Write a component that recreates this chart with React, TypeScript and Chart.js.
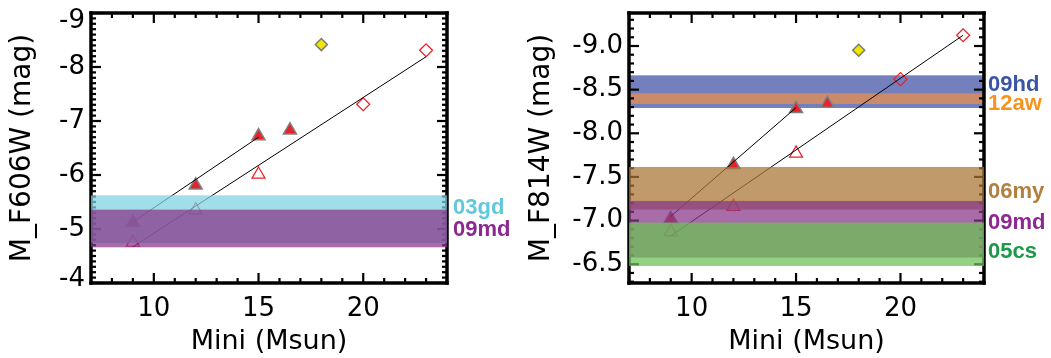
import { useEffect, useRef } from "react";
import { Chart, registerables } from "chart.js";

Chart.register(...registerables);

// ---------- shared ----------
const massRange = [7, 24];
const massMajorStep = 5;
const massMinorStep = 1;
const magMinorStep = 0.1;
const massTitle = "Mini (Msun)";

// ---------- left panel: F606W ----------
const f606Title = "M_F606W (mag)";
const f606Range = [-9, -4];
const f606MajorStep = 1;
const f606Decimals = 0;
const f606FilledMass = [9, 12, 15, 16.5];
const f606FilledMag = [-5.12, -5.81, -6.72, -6.83];
const f606OpenMass = [9, 12, 15];
const f606OpenMag = [-4.75, -5.35, -6.01];
const f606DiamondMass = [20, 23];
const f606DiamondMag = [-7.31, -8.31];
const f606YellowMass = [18];
const f606YellowMag = [-8.415];
const f606FitFilledMass = [9, 15];
const f606FitFilledMag = [-5.13, -6.7];
const f606FitOpenMass = [9, 23];
const f606FitOpenMag = [-4.67, -8.19];
const f606BandNames = ["03gd", "09md"];
const f606BandBright = [-5.624, -5.359];
const f606BandFaint = [-4.741, -4.661];
const f606BandOverData = [true, true];
const f606LabelMag = [-5.285, -4.865];

// ---------- right panel: F814W ----------
const f814Title = "M_F814W (mag)";
const f814Range = [-9.378, -6.285];
const f814MajorStep = 0.5;
const f814Decimals = 1;
const f814FilledMass = [9, 12, 15, 16.5];
const f814FilledMag = [-7.02, -7.64, -8.28, -8.34];
const f814OpenMass = [9, 12, 15];
const f814OpenMag = [-6.87, -7.16, -7.77];
const f814DiamondMass = [20, 23];
const f814DiamondMag = [-8.62, -9.123];
const f814YellowMass = [18];
const f814YellowMag = [-8.951];
const f814FitFilledMass = [9, 15];
const f814FitFilledMag = [-7.049, -8.294];
const f814FitOpenMass = [9, 23];
const f814FitOpenMag = [-6.824, -9.123];
const f814BandNames = ["09hd", "12aw", "06my", "09md", "05cs"];
const f814BandBright = [-8.664, -8.458, -7.614, -7.225, -6.977];
const f814BandFaint = [-8.29, -8.336, -7.126, -6.576, -6.48];
const f814BandOverData = [false, false, true, true, true];
const f814LabelMag = [-8.485, -8.263, -7.263, -6.908, -6.576];

// ---------- styles ----------
const bandFill: Record<string, string> = {
  "03gd": "rgba(127,210,226,0.73)",
  "09md": "rgba(136,53,136,0.73)",
  "09hd": "rgba(63,81,165,0.73)",
  "12aw": "rgba(233,142,75,0.73)",
  "06my": "rgba(168,116,51,0.73)",
  "05cs": "rgba(107,193,84,0.73)",
};
const labelColor: Record<string, string> = {
  "03gd": "#5fc8dc",
  "09md": "#8c2891",
  "09hd": "#3b55a6",
  "12aw": "#f7941e",
  "06my": "#b27f3f",
  "05cs": "#1c9a4a",
};

const AXIS_FONT = '"DejaVu Sans", sans-serif';
const LABEL_FONT = 'bold 22px "Liberation Sans", Arial, sans-serif';

const pts = (xs: number[], ys: number[]) => xs.map((x, i) => ({ x, y: ys[i] }));

function drawBands(chart: any, opts: any, over: boolean) {
  const { ctx, chartArea: a, scales } = chart;
  const ys = scales.y;
  ctx.save();
  opts.names.forEach((n: string, i: number) => {
    if (!!opts.over[i] !== over) return;
    const y1 = ys.getPixelForValue(opts.bright[i]);
    const y2 = ys.getPixelForValue(opts.faint[i]);
    ctx.fillStyle = bandFill[n];
    ctx.fillRect(a.left, Math.min(y1, y2), a.right - a.left, Math.abs(y2 - y1));
  });
  ctx.restore();
}

function drawFrame(chart: any, opts: any) {
  const { ctx, chartArea: a, scales } = chart;
  ctx.save();
  ctx.fillStyle = "#000000";
  const TW = 2.2;
  const drawTicks = (scale: any, minor: number, major: number, horizontal: boolean) => {
    const lo = Math.min(scale.min, scale.max);
    const hi = Math.max(scale.min, scale.max);
    const start = Math.ceil(lo / minor - 1e-6);
    const end = Math.floor(hi / minor + 1e-6);
    for (let k = start; k <= end; k++) {
      const v = k * minor;
      const r = v / major;
      const isMajor = Math.abs(r - Math.round(r)) < 1e-6;
      const len = isMajor ? 10 : 5;
      const p = scale.getPixelForValue(v);
      if (horizontal) {
        ctx.fillRect(p - TW / 2, a.bottom - len, TW, len);
        ctx.fillRect(p - TW / 2, a.top, TW, len);
      } else {
        ctx.fillRect(a.left, p - TW / 2, len, TW);
        ctx.fillRect(a.right - len, p - TW / 2, len, TW);
      }
    }
  };
  drawTicks(scales.x, massMinorStep, massMajorStep, true);
  drawTicks(scales.y, magMinorStep, opts.majorStep, false);

  const B = 3.5;
  ctx.fillRect(a.left - B / 2, a.top - B / 2, a.right - a.left + B, B);
  ctx.fillRect(a.left - B / 2, a.bottom - B / 2, a.right - a.left + B, B);
  ctx.fillRect(a.left - B / 2, a.top - B / 2, B, a.bottom - a.top + B);
  ctx.fillRect(a.right - B / 2, a.top - B / 2, B, a.bottom - a.top + B);
  ctx.restore();
}

const frameBandsPlugin = {
  id: "frameBands",
  beforeDatasetsDraw(chart: any, _args: any, opts: any) {
    drawBands(chart, opts, false);
  },
  afterDatasetsDraw(chart: any, _args: any, opts: any) {
    drawFrame(chart, opts);
    drawBands(chart, opts, true);
    const { ctx, chartArea: a, scales } = chart;
    ctx.save();
    ctx.font = LABEL_FONT;
    ctx.textAlign = "left";
    ctx.textBaseline = "alphabetic";
    opts.names.forEach((n: string, i: number) => {
      ctx.fillStyle = labelColor[n];
      ctx.fillText(n, a.right + opts.labelGap, scales.y.getPixelForValue(opts.labelMag[i]));
    });
    ctx.restore();
  },
};

type Pt = { x: number; y: number };
type Panel = {
  title: string;
  range: number[];
  majorStep: number;
  decimals: number;
  filled: Pt[];
  open: Pt[];
  diamond: Pt[];
  yellow: Pt[];
  fitFilled: Pt[];
  fitOpen: Pt[];
  names: string[];
  bright: number[];
  faint: number[];
  over: boolean[];
  labelMag: number[];
  yAxisWidth: number;
  padRight: number;
  titlePad: number;
  labelGap: number;
  edgeNudge: boolean;
};

const leftPanel: Panel = {
  title: f606Title,
  range: f606Range,
  majorStep: f606MajorStep,
  decimals: f606Decimals,
  filled: pts(f606FilledMass, f606FilledMag),
  open: pts(f606OpenMass, f606OpenMag),
  diamond: pts(f606DiamondMass, f606DiamondMag),
  yellow: pts(f606YellowMass, f606YellowMag),
  fitFilled: pts(f606FitFilledMass, f606FitFilledMag),
  fitOpen: pts(f606FitOpenMass, f606FitOpenMag),
  names: f606BandNames,
  bright: f606BandBright,
  faint: f606BandFaint,
  over: f606BandOverData,
  labelMag: f606LabelMag,
  yAxisWidth: 91,
  padRight: 78,
  titlePad: 6,
  labelGap: 6,
  edgeNudge: true,
};

const rightPanel: Panel = {
  title: f814Title,
  range: f814Range,
  majorStep: f814MajorStep,
  decimals: f814Decimals,
  filled: pts(f814FilledMass, f814FilledMag),
  open: pts(f814OpenMass, f814OpenMag),
  diamond: pts(f814DiamondMass, f814DiamondMag),
  yellow: pts(f814YellowMass, f814YellowMag),
  fitFilled: pts(f814FitFilledMass, f814FitFilledMag),
  fitOpen: pts(f814FitOpenMass, f814FitOpenMag),
  names: f814BandNames,
  bright: f814BandBright,
  faint: f814BandFaint,
  over: f814BandOverData,
  labelMag: f814LabelMag,
  yAxisWidth: 104,
  padRight: 67,
  titlePad: 0,
  labelGap: 4,
  edgeNudge: false,
};

const H = 358;
const PLOT_TOP = 13;
const PLOT_BOTTOM = 283;

function makeConfig(p: Panel): any {
  const lo = p.range[0];
  const hi = p.range[1];
  const isEdge = (v: number) => p.edgeNudge && (Math.abs(v - lo) < 1e-6 || Math.abs(v - hi) < 1e-6);
  return {
    type: "scatter",
    data: {
      datasets: [
        { data: p.fitFilled, showLine: true, borderColor: "#000", borderWidth: 1, pointRadius: 0 },
        { data: p.fitOpen, showLine: true, borderColor: "#000", borderWidth: 1, pointRadius: 0 },
        {
          data: p.filled,
          pointStyle: "triangle",
          pointRadius: 7.5,
          backgroundColor: "#e8212a",
          borderColor: "#808080",
          borderWidth: 1.5,
        },
        {
          data: p.open,
          pointStyle: "triangle",
          pointRadius: 7.5,
          backgroundColor: "rgba(0,0,0,0)",
          borderColor: "#ee1c24",
          borderWidth: 1.2,
        },
        {
          data: p.diamond,
          pointStyle: "rectRot",
          pointRadius: 6.5,
          backgroundColor: "rgba(0,0,0,0)",
          borderColor: "#ee1c24",
          borderWidth: 1.2,
        },
        {
          data: p.yellow,
          pointStyle: "rectRot",
          pointRadius: 6,
          backgroundColor: "#f2e600",
          borderColor: "#7a7a7a",
          borderWidth: 1.5,
        },
      ],
    },
    options: {
      responsive: false,
      animation: false,
      devicePixelRatio: 1,
      events: [],
      clip: false,
      layout: { padding: { left: 0, right: p.padRight, top: PLOT_TOP, bottom: 0 } },
      plugins: {
        legend: { display: false },
        tooltip: { enabled: false },
        frameBands: {
          names: p.names,
          bright: p.bright,
          faint: p.faint,
          over: p.over,
          labelMag: p.labelMag,
          majorStep: p.majorStep,
          labelGap: p.labelGap,
        },
      },
      scales: {
        x: {
          type: "linear",
          min: massRange[0],
          max: massRange[1],
          grid: { display: false, drawTicks: false },
          border: { display: false },
          ticks: {
            stepSize: massMajorStep,
            includeBounds: false,
            color: "#000",
            padding: 11,
            font: { family: AXIS_FONT, size: 26 },
          },
          title: {
            display: true,
            text: massTitle,
            color: "#000",
            padding: { top: 0, bottom: 0 },
            font: { family: AXIS_FONT, size: 27 },
          },
          afterFit: (s: any) => {
            s.height = H - PLOT_BOTTOM;
            s.paddingLeft = 0;
            s.paddingRight = 0;
          },
        },
        y: {
          type: "linear",
          min: lo,
          max: hi,
          reverse: true,
          grid: { display: false, drawTicks: false },
          border: { display: false },
          ticks: {
            stepSize: p.majorStep,
            includeBounds: false,
            color: "#000",
            padding: 6,
            font: (ctx: any) => {
              const v = ctx.tick ? ctx.tick.value : NaN;
              if (isEdge(v)) {
                // pull the top and bottom labels inward, as in the reference
                const shift = Math.abs(v - lo) < 1e-6 ? 17 : 7.5;
                return { family: AXIS_FONT, size: 26, lineHeight: shift + "px" };
              }
              return { family: AXIS_FONT, size: 26 };
            },
            callback: (v: any) => {
              const s = Number(v).toFixed(p.decimals);
              if (isEdge(Number(v))) {
                return Math.abs(Number(v) - lo) < 1e-6 ? ["", s] : [s, ""];
              }
              return s;
            },
          },
          title: {
            display: true,
            text: p.title,
            color: "#000",
            padding: { top: p.titlePad, bottom: 0 },
            font: { family: AXIS_FONT, size: 28 },
          },
          afterFit: (s: any) => {
            s.width = p.yAxisWidth;
            s.paddingTop = 0;
            s.paddingBottom = 0;
          },
        },
      },
    },
    plugins: [frameBandsPlugin],
  };
}

function PanelChart({ panel, left, width }: { panel: Panel; left: number; width: number }) {
  const ref = useRef<HTMLCanvasElement>(null);
  useEffect(() => {
    const chart = new Chart(ref.current as HTMLCanvasElement, makeConfig(panel));
    return () => chart.destroy();
  }, [panel]);
  return (
    <div style={{ position: "absolute", left, top: 0, width, height: H, overflow: "hidden" }}>
      <canvas ref={ref} width={width} height={H} style={{ display: "block", width, height: H }} />
    </div>
  );
}

export default function App() {
  return (
    <div style={{ position: "absolute", left: 0, top: 0, width: 1051, height: H, background: "#fff" }}>
      <PanelChart panel={leftPanel} left={0} width={525} />
      <PanelChart panel={rightPanel} left={525} width={526} />
    </div>
  );
}
